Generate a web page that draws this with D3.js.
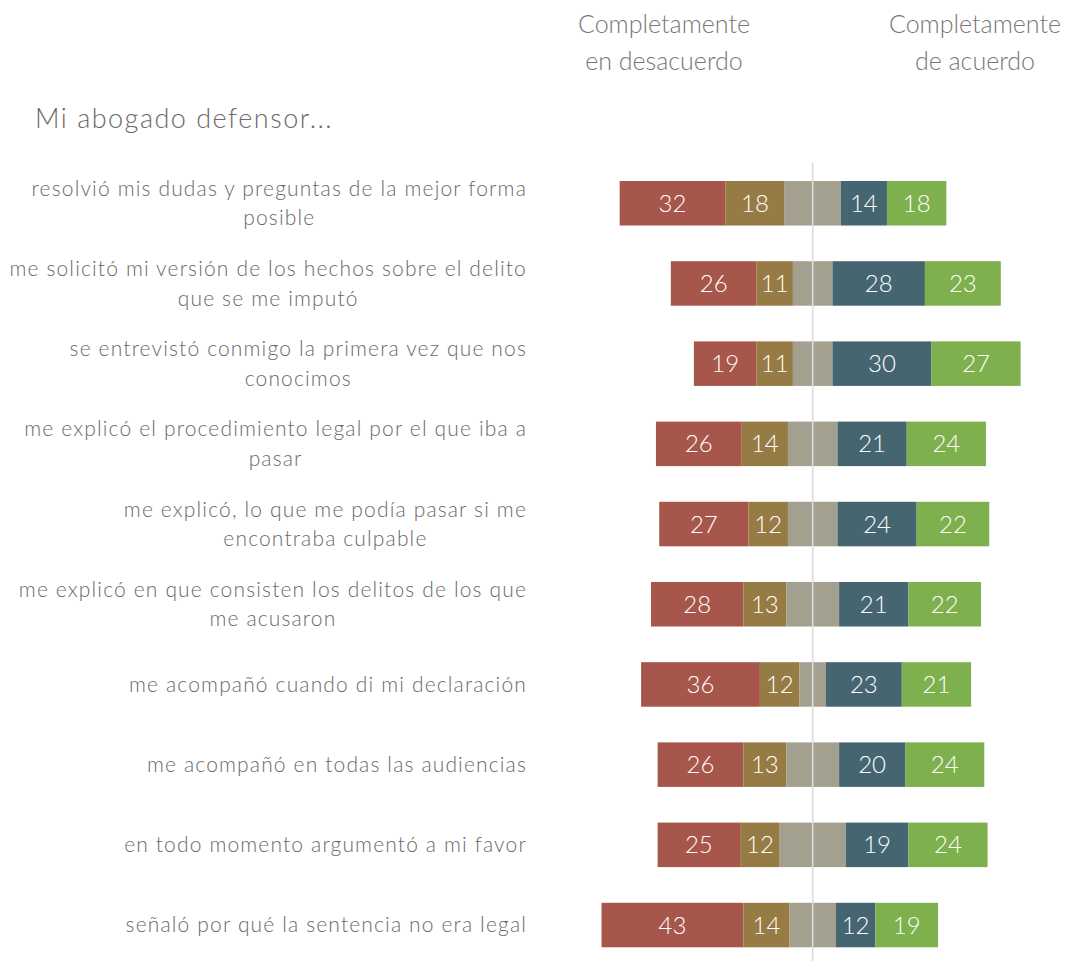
<!DOCTYPE html>
<html>
<head>
<meta charset="utf-8">
<script src="https://cdn.jsdelivr.net/npm/d3@7"></script>
<style>
  html, body { margin: 0; padding: 0; background: #fff; }
  svg { display: block; }
  text { font-family: Lato, "Open Sans", sans-serif; }
</style>
</head>
<body>
<svg id="chart" width="1066" height="961"></svg>
<script>
// Survey items (line breaks as laid out in the label column)
const categories = [
  "resolvió mis dudas y preguntas de la mejor forma\nposible",
  "me solicitó mi versión de los hechos sobre el delito\nque se me imputó",
  "se entrevistó conmigo la primera vez que nos\nconocimos",
  "me explicó el procedimiento legal por el que iba a\npasar",
  "me explicó, lo que me podía pasar si me\nencontraba culpable",
  "me explicó en que consisten los delitos de los que\nme acusaron",
  "me acompañó cuando di mi declaración",
  "me acompañó en todas las audiencias",
  "en todo momento argumentó a mi favor",
  "señaló por qué la sentencia no era legal"
];

// Percentages per response level
const completelyDisagree = [32, 26, 19, 26, 27, 28, 36, 26, 25, 43];
const disagree           = [18, 11, 11, 14, 12, 13, 12, 13, 12, 14];
const neutral            = [17, 12, 12, 15, 15, 16,  8, 16, 20, 14];
const agree              = [14, 28, 30, 21, 24, 21, 23, 20, 19, 12];
const completelyAgree    = [18, 23, 27, 24, 22, 22, 21, 24, 24, 19];

const levelNames = ["Completamente en desacuerdo", "En desacuerdo", "Neutral", "De acuerdo", "Completamente de acuerdo"];
const levelColors = ["#a6564a", "#967b44", "#a3a090", "#456671", "#7eb04d"];
const levelLabeled = [true, true, false, true, true];

const title = "Mi abogado defensor...";
const headerLeft = ["Completamente", "en desacuerdo"];
const headerRight = ["Completamente", "de acuerdo"];

const svg = d3.select("#chart");
const textColor = "#6a6a6a";

const cx = 812.7;
const x = d3.scaleLinear().domain([-50, 50]).range([cx - 165, cx + 165]);
const y = d3.scaleBand()
  .domain(categories)
  .range([181, 947.3])
  .paddingInner(0.445)
  .paddingOuter(0);

// Build stacked segments, neutral centred on zero
const levels = [completelyDisagree, disagree, neutral, agree, completelyAgree];
const rows = categories.map((c, i) => {
  let start = -(completelyDisagree[i] + disagree[i] + neutral[i] / 2);
  return levels.map((arr, k) => {
    const seg = { cat: c, level: k, value: arr[i], x0: start, x1: start + arr[i] };
    start += arr[i];
    return seg;
  });
});

const g = svg.append("g");
const rowG = g.selectAll("g.row").data(rows).join("g").attr("class", "row");

rowG.selectAll("rect").data(d => d).join("rect")
  .attr("x", d => x(d.x0))
  .attr("width", d => x(d.x1) - x(d.x0))
  .attr("y", d => y(d.cat))
  .attr("height", y.bandwidth())
  .attr("fill", d => levelColors[d.level]);

// Centre (zero) line, drawn over the neutral segments
svg.append("line")
  .attr("x1", x(0)).attr("x2", x(0))
  .attr("y1", 163).attr("y2", 961)
  .attr("stroke", "#dcdce0").attr("stroke-width", 1.6);

rowG.selectAll("text.val").data(d => d.filter(s => levelLabeled[s.level])).join("text")
  .attr("class", "val")
  .attr("x", d => (x(d.x0) + x(d.x1)) / 2)
  .attr("y", d => y(d.cat) + y.bandwidth() / 2)
  .attr("dy", "0.36em")
  .attr("text-anchor", "middle")
  .attr("fill", "#ffffff")
  .attr("font-size", 24)
  .attr("font-weight", 300)
  .text(d => d.value);

// Category labels: block right-aligned, lines centred within the block
const labelRight = 527;
const lineH = 29.5;
categories.forEach(c => {
  const lines = c.split("\n");
  const t = svg.append("text")
    .attr("fill", textColor)
    .attr("font-size", 21)
    .attr("font-weight", 300)
    .attr("letter-spacing", "1.15px")
    .attr("text-anchor", "middle");
  const spans = lines.map((ln, j) => t.append("tspan")
    .attr("y", y(c) + y.bandwidth() / 2 + (j - (lines.length - 1) / 2) * lineH)
    .attr("dy", "0.35em")
    .text(ln));
  const w = d3.max(spans, s => s.node().getComputedTextLength());
  spans.forEach(s => s.attr("x", labelRight - w / 2));
});

// Title
svg.append("text")
  .attr("x", 35).attr("y", 128)
  .attr("fill", textColor)
  .attr("font-size", 27)
  .attr("font-weight", 300)
  .attr("letter-spacing", "1.5px")
  .text(title);

// Scale-end headers
function header(lines, xc) {
  const t = svg.append("text")
    .attr("fill", "#777777")
    .attr("font-size", 25)
    .attr("font-weight", 300)
    .attr("text-anchor", "middle");
  lines.forEach((ln, j) => t.append("tspan")
    .attr("x", xc).attr("y", 24 + j * 37).attr("dy", "0.35em").text(ln));
}
header(headerLeft, 664);
header(headerRight, 975);
</script>
</body>
</html>
